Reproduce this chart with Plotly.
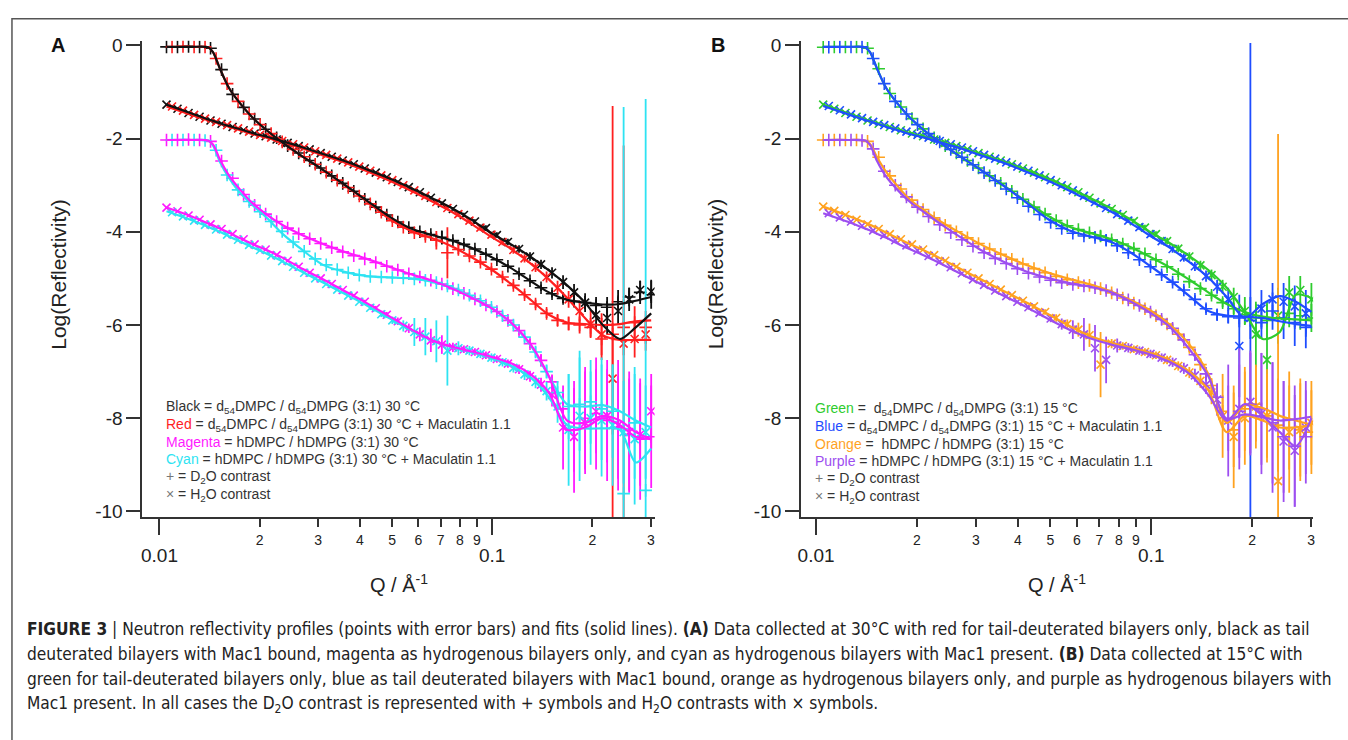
import plotly.graph_objects as go

W, H = 1348, 740

# ---------------------------------------------------------------- Q grids
Q1 = [0.0105, 0.01133, 0.01223, 0.0132, 0.01424, 0.01537, 0.01659, 0.0179, 0.01932, 0.02085,
      0.0225, 0.02428, 0.02621, 0.02828, 0.03052, 0.03294, 0.03555, 0.03837, 0.0414, 0.04468,
      0.04822, 0.05204, 0.05616, 0.06061, 0.06541, 0.07059, 0.07618, 0.08222, 0.08873, 0.09576,
      0.1033, 0.1115, 0.1204, 0.1299, 0.1402, 0.1513, 0.1633, 0.1762, 0.1902, 0.2052,
      0.2215, 0.239, 0.258, 0.2784, 0.3005]
Q2 = [0.01091, 0.01177, 0.01271, 0.01371, 0.0148, 0.01597, 0.01723, 0.0186, 0.02007, 0.02166,
      0.02338, 0.02522, 0.02723, 0.02938, 0.03171, 0.03422, 0.03693, 0.03986, 0.04301, 0.04642,
      0.0501, 0.05406, 0.05835, 0.06297, 0.06795, 0.07334, 0.07914, 0.08542, 0.09218, 0.09948,
      0.1074, 0.1158, 0.1251, 0.135, 0.1457, 0.1572, 0.1697, 0.1831, 0.1976, 0.2132,
      0.2301, 0.2483, 0.268, 0.2892]
QF = [0.0105, 0.0125, 0.0140, 0.0145, 0.0152, 0.0162, 0.0175, 0.019, 0.021, 0.0235,
      0.027, 0.031, 0.036, 0.042, 0.049, 0.057, 0.066, 0.076, 0.087, 0.10,
      0.114, 0.13, 0.148, 0.168, 0.19, 0.215, 0.242, 0.27, 0.3005]

# ---------------------------------------------------------------- panel A data (30 C)
A_BLACK_D2O = [-0.03, -0.03, -0.02, -0.03, -0.06, -0.52, -1.05, -1.33, -1.58, -1.80,
               -1.98, -2.15, -2.31, -2.47, -2.63, -2.80, -2.96, -3.13, -3.30, -3.47,
               -3.64, -3.79, -3.91, -4.00, -4.06, -4.12, -4.19, -4.27, -4.37, -4.48,
               -4.60, -4.74, -4.90, -5.05, -5.20, -5.33, -5.43, -5.49, -5.52, -5.58,
               -5.62, -5.50, -5.40, -5.30, -5.35]
A_BLACK_D2O_ERR = [0.02, 0.02, 0.02, 0.02, 0.02, 0.02, 0.02, 0.02, 0.02, 0.02,
                   0.02, 0.02, 0.02, 0.02, 0.02, 0.02, 0.02, 0.02, 0.02, 0.02,
                   0.03, 0.03, 0.03, 0.04, 0.06, 0.15, 0.06, 0.05, 0.05, 0.05,
                   0.05, 0.05, 0.06, 0.06, 0.07, 0.08, 0.10, 0.12, 0.14, 0.18,
                   0.22, 0.25, 0.20, 0.25, 0.30]
A_RED_D2O = [-0.03, -0.02, -0.03, -0.03, -0.28, -0.82, -1.20, -1.47, -1.70, -1.89,
             -2.07, -2.23, -2.39, -2.55, -2.72, -2.89, -3.05, -3.23, -3.40, -3.58,
             -3.76, -3.90, -4.02, -4.10, -4.18, -4.45, -4.38, -4.52, -4.65, -4.80,
             -4.97, -5.15, -5.35, -5.55, -5.75, -5.90, -5.97, -6.00, -6.05, -6.30,
             -6.20, -6.05, -5.95, -6.05]
A_RED_D2O_ERR = [0.02, 0.02, 0.02, 0.02, 0.02, 0.02, 0.02, 0.02, 0.02, 0.02,
                 0.02, 0.02, 0.02, 0.02, 0.02, 0.02, 0.02, 0.02, 0.02, 0.03,
                 0.03, 0.03, 0.04, 0.08, 0.20, 0.55, 0.10, 0.06, 0.06, 0.06,
                 0.07, 0.07, 0.08, 0.09, 0.10, 0.12, 0.15, 0.18, 0.20, 0.45,
                 4.90, 0.60, 0.35, 0.35]
A_BLACK_H2O = [-1.27, -1.36, -1.45, -1.53, -1.61, -1.68, -1.75, -1.82, -1.89, -1.95,
               -2.02, -2.09, -2.16, -2.23, -2.31, -2.39, -2.47, -2.55, -2.64, -2.73,
               -2.83, -2.93, -3.04, -3.15, -3.27, -3.39, -3.51, -3.64, -3.78, -3.92,
               -4.07, -4.22, -4.37, -4.53, -4.70, -4.88, -5.08, -5.30, -5.52, -5.78,
               -5.85, -5.70, -5.45, -5.25, -5.28]
A_BLACK_H2O_ERR = [0.02, 0.02, 0.02, 0.02, 0.02, 0.02, 0.02, 0.02, 0.02, 0.02,
                   0.02, 0.02, 0.02, 0.02, 0.02, 0.02, 0.02, 0.02, 0.02, 0.02,
                   0.03, 0.03, 0.03, 0.03, 0.04, 0.04, 0.04, 0.05, 0.05, 0.06,
                   0.06, 0.07, 0.08, 0.09, 0.10, 0.12, 0.15, 0.18, 0.20, 0.30,
                   0.35, 0.30, 0.25, 0.20, 0.25]
A_RED_H2O = [-1.31, -1.40, -1.49, -1.57, -1.64, -1.71, -1.78, -1.85, -1.92, -1.98,
             -2.05, -2.12, -2.19, -2.27, -2.35, -2.43, -2.51, -2.60, -2.69, -2.79,
             -2.89, -3.00, -3.11, -3.23, -3.36, -3.49, -3.62, -3.76, -3.91, -4.06,
             -4.22, -4.39, -4.57, -4.76, -4.97, -5.20, -5.45, -5.70, -5.98, -6.20,
             -7.15, -6.40, -6.30, -6.20]
A_RED_H2O_ERR = [0.02, 0.02, 0.02, 0.02, 0.02, 0.02, 0.02, 0.02, 0.02, 0.02,
                 0.02, 0.02, 0.02, 0.02, 0.02, 0.02, 0.02, 0.02, 0.02, 0.02,
                 0.03, 0.03, 0.03, 0.04, 0.04, 0.04, 0.05, 0.05, 0.06, 0.06,
                 0.07, 0.08, 0.09, 0.10, 0.12, 0.15, 0.18, 0.22, 0.30, 0.45,
                 1.20, 4.25, 0.40, 0.35]
A_MAGENTA_D2O = [-2.03, -2.03, -2.02, -2.03, -2.06, -2.48, -2.85, -3.20, -3.43, -3.62,
                 -3.78, -3.92, -4.04, -4.15, -4.25, -4.34, -4.43, -4.51, -4.58, -4.66,
                 -4.74, -4.82, -4.90, -4.97, -5.04, -5.12, -5.22, -5.32, -5.44, -5.57,
                 -5.71, -5.90, -6.12, -6.40, -6.76, -7.22, -7.80, -8.25, -8.00, -7.90,
                 -8.05, -8.20, -8.35, -8.45, -8.40]
A_MAGENTA_D2O_ERR = [0.02, 0.02, 0.02, 0.02, 0.02, 0.02, 0.02, 0.02, 0.02, 0.02,
                     0.02, 0.02, 0.02, 0.02, 0.02, 0.02, 0.02, 0.02, 0.02, 0.02,
                     0.02, 0.03, 0.03, 0.03, 0.03, 0.04, 0.04, 0.05, 0.05, 0.06,
                     0.07, 0.08, 0.09, 0.10, 0.12, 0.16, 0.40, 0.90, 1.10, 1.20,
                     1.30, 1.10, 1.20, 1.30, 1.10]
A_CYAN_D2O = [-2.03, -2.03, -2.03, -2.04, -2.25, -2.78, -3.10, -3.35, -3.57, -3.78,
              -3.99, -4.22, -4.42, -4.58, -4.71, -4.81, -4.88, -4.93, -4.96, -4.97,
              -4.98, -4.99, -5.01, -5.04, -5.09, -5.16, -5.25, -5.36, -5.48, -5.62,
              -5.80, -6.00, -6.26, -6.58, -7.00, -7.45, -7.75, -7.70, -7.65, -7.80,
              -7.85, -9.62, -8.10, -9.55]
A_CYAN_D2O_ERR = [0.02, 0.02, 0.02, 0.02, 0.02, 0.02, 0.02, 0.02, 0.02, 0.02,
                  0.02, 0.02, 0.02, 0.02, 0.02, 0.02, 0.02, 0.02, 0.02, 0.02,
                  0.03, 0.03, 0.03, 0.04, 0.05, 0.06, 0.05, 0.05, 0.06, 0.06,
                  0.07, 0.08, 0.10, 0.12, 0.15, 0.25, 0.70, 1.00, 0.90, 1.10,
                  1.00, 8.30, 1.20, 8.40]
A_MAGENTA_H2O = [-3.48, -3.56, -3.65, -3.74, -3.84, -3.94, -4.05, -4.16, -4.27, -4.38,
                 -4.50, -4.62, -4.75, -4.88, -5.00, -5.12, -5.25, -5.37, -5.50, -5.64,
                 -5.78, -5.92, -6.07, -6.20, -6.33, -6.42, -6.48, -6.52, -6.58, -6.65,
                 -6.73, -6.83, -6.95, -7.10, -7.28, -7.50, -8.20, -8.40, -8.10, -7.85,
                 -7.95, -8.15, -8.30, -8.35, -7.85]
A_MAGENTA_H2O_ERR = [0.02, 0.02, 0.02, 0.02, 0.02, 0.02, 0.02, 0.02, 0.02, 0.02,
                     0.02, 0.02, 0.02, 0.02, 0.02, 0.02, 0.02, 0.02, 0.04, 0.05,
                     0.06, 0.08, 0.10, 0.15, 0.25, 0.20, 0.10, 0.08, 0.08, 0.08,
                     0.08, 0.09, 0.10, 0.12, 0.15, 0.25, 0.90, 1.20, 1.10, 0.90,
                     1.00, 1.40, 1.30, 1.10, 0.80]
A_CYAN_H2O = [-3.58, -3.67, -3.76, -3.85, -3.95, -4.06, -4.17, -4.28, -4.39, -4.51,
              -4.63, -4.75, -4.88, -5.00, -5.12, -5.24, -5.37, -5.50, -5.63, -5.77,
              -5.90, -6.02, -6.15, -6.25, -6.35, -6.55, -6.50, -6.55, -6.62, -6.70,
              -6.80, -6.92, -7.06, -7.22, -7.42, -7.75, -8.25, -7.95, -8.00, -8.05,
              -8.15, -8.30, -8.45, -8.30]
A_CYAN_H2O_ERR = [0.02, 0.02, 0.02, 0.02, 0.02, 0.02, 0.02, 0.02, 0.02, 0.02,
                  0.02, 0.02, 0.02, 0.02, 0.02, 0.02, 0.02, 0.02, 0.05, 0.06,
                  0.08, 0.12, 0.30, 0.40, 0.45, 0.75, 0.15, 0.10, 0.09, 0.09,
                  0.09, 0.10, 0.12, 0.14, 0.20, 0.35, 1.20, 1.40, 1.00, 1.20,
                  1.30, 1.10, 1.40, 1.00]

# panel A fits
A_BLACK_D2O_FIT = [-0.03, -0.03, -0.04, -0.15, -0.50, -0.92, -1.25, -1.54, -1.82, -2.09,
                   -2.39, -2.67, -2.99, -3.33, -3.67, -3.93, -4.07, -4.19, -4.35, -4.55,
                   -4.78, -5.05, -5.30, -5.46, -5.52, -5.56, -5.55, -5.48, -5.40]
A_RED_D2O_FIT = [-0.03, -0.03, -0.04, -0.15, -0.50, -0.92, -1.25, -1.54, -1.82, -2.09,
                 -2.39, -2.67, -3.00, -3.35, -3.72, -3.98, -4.14, -4.32, -4.55, -4.82,
                 -5.12, -5.45, -5.78, -5.95, -5.98, -6.00, -5.98, -5.92, -5.90]
A_BLACK_H2O_FIT = [-1.27, -1.46, -1.59, -1.62, -1.67, -1.73, -1.80, -1.88, -1.96, -2.06,
                   -2.19, -2.33, -2.48, -2.66, -2.85, -3.06, -3.28, -3.50, -3.75, -4.04,
                   -4.27, -4.53, -4.83, -5.15, -5.52, -6.00, -6.30, -6.05, -5.75]
A_RED_H2O_FIT = [-1.31, -1.49, -1.60, -1.63, -1.68, -1.75, -1.82, -1.90, -1.98, -2.08,
                 -2.21, -2.36, -2.51, -2.70, -2.90, -3.12, -3.35, -3.58, -3.84, -4.12,
                 -4.37, -4.67, -5.02, -5.42, -5.85, -6.22, -6.32, -6.32, -6.32]
A_MAGENTA_D2O_FIT = [-2.03, -2.03, -2.04, -2.13, -2.45, -2.80, -3.10, -3.38, -3.63, -3.86,
                     -4.08, -4.26, -4.43, -4.58, -4.75, -4.91, -5.05, -5.22, -5.42, -5.65,
                     -5.95, -6.40, -7.10, -8.05, -8.10, -7.95, -8.05, -8.30, -8.45]
A_CYAN_D2O_FIT = [-2.03, -2.03, -2.04, -2.15, -2.50, -2.85, -3.17, -3.42, -3.70, -4.05,
                  -4.40, -4.71, -4.86, -4.95, -4.98, -5.00, -5.07, -5.20, -5.40, -5.64,
                  -5.96, -6.42, -7.10, -7.70, -7.75, -7.72, -7.85, -8.05, -8.20]
A_MAGENTA_H2O_FIT = [-3.48, -3.67, -3.82, -3.86, -3.93, -4.02, -4.14, -4.26, -4.39, -4.56,
                     -4.80, -5.02, -5.27, -5.53, -5.81, -6.09, -6.33, -6.47, -6.57, -6.69,
                     -6.82, -7.05, -7.45, -8.25, -8.20, -8.00, -8.15, -8.40, -8.45]
A_CYAN_H2O_FIT = [-3.56, -3.75, -3.89, -3.94, -4.00, -4.10, -4.21, -4.33, -4.47, -4.64,
                  -4.87, -5.09, -5.33, -5.58, -5.85, -6.11, -6.33, -6.48, -6.58, -6.71,
                  -6.88, -7.12, -7.55, -8.15, -8.22, -8.22, -8.25, -8.95, -8.65]

# ---------------------------------------------------------------- panel B data (15 C)
B_GREEN_D2O = [-0.04, -0.03, -0.03, -0.03, -0.06, -0.50, -1.03, -1.32, -1.57, -1.79,
               -1.98, -2.15, -2.31, -2.47, -2.63, -2.80, -2.96, -3.13, -3.30, -3.47,
               -3.62, -3.76, -3.87, -3.95, -4.02, -4.09, -4.17, -4.26, -4.36, -4.47,
               -4.60, -4.75, -4.91, -5.07, -5.22, -5.36, -5.52, -5.65, -5.78, -5.85,
               -5.90, -5.85, -5.75, -5.80, -5.85]
B_GREEN_D2O_ERR = [0.02, 0.02, 0.02, 0.02, 0.02, 0.02, 0.02, 0.02, 0.02, 0.02,
                   0.02, 0.02, 0.02, 0.02, 0.02, 0.02, 0.02, 0.02, 0.02, 0.02,
                   0.03, 0.03, 0.03, 0.04, 0.05, 0.12, 0.06, 0.05, 0.05, 0.05,
                   0.05, 0.05, 0.06, 0.06, 0.07, 0.08, 0.10, 0.12, 0.20, 0.30,
                   0.40, 0.35, 0.30, 0.30, 0.30]
B_BLUE_D2O = [-0.04, -0.03, -0.03, -0.03, -0.28, -0.82, -1.20, -1.47, -1.70, -1.89,
              -2.07, -2.23, -2.40, -2.56, -2.73, -2.90, -3.08, -3.27, -3.45, -3.63,
              -3.80, -3.93, -4.03, -4.09, -4.12, -4.18, -4.30, -4.45, -4.60, -4.75,
              -4.92, -5.08, -5.25, -5.45, -5.65, -5.78, -5.82, -5.85, -5.90, -5.95,
              -5.70, -5.85, -5.95, -6.05]
B_BLUE_D2O_ERR = [0.02, 0.02, 0.02, 0.02, 0.02, 0.02, 0.02, 0.02, 0.02, 0.02,
                  0.02, 0.02, 0.02, 0.02, 0.02, 0.02, 0.02, 0.02, 0.02, 0.02,
                  0.03, 0.03, 0.04, 0.05, 0.08, 0.12, 0.08, 0.06, 0.06, 0.06,
                  0.07, 0.07, 0.08, 0.09, 0.10, 0.12, 0.15, 0.20, 5.95, 0.35,
                  0.40, 0.45, 0.50, 0.45]
B_GREEN_H2O = [-1.27, -1.36, -1.45, -1.53, -1.61, -1.68, -1.75, -1.82, -1.89, -1.95,
               -2.02, -2.09, -2.16, -2.23, -2.31, -2.39, -2.47, -2.55, -2.64, -2.73,
               -2.83, -2.93, -3.04, -3.15, -3.27, -3.39, -3.51, -3.64, -3.77, -3.91,
               -4.05, -4.20, -4.36, -4.53, -4.72, -4.93, -5.18, -5.40, -5.70, -6.20,
               -6.75, -5.80, -5.30, -5.25, -5.45]
B_GREEN_H2O_ERR = [0.02, 0.02, 0.02, 0.02, 0.02, 0.02, 0.02, 0.02, 0.02, 0.02,
                   0.02, 0.02, 0.02, 0.02, 0.02, 0.02, 0.02, 0.02, 0.02, 0.02,
                   0.03, 0.03, 0.03, 0.03, 0.04, 0.04, 0.04, 0.05, 0.05, 0.06,
                   0.06, 0.07, 0.08, 0.09, 0.10, 0.12, 0.15, 0.20, 0.30, 0.70,
                   1.20, 0.60, 0.35, 0.30, 0.35]
B_BLUE_H2O = [-1.30, -1.39, -1.48, -1.56, -1.64, -1.71, -1.78, -1.85, -1.92, -1.98,
              -2.05, -2.12, -2.19, -2.27, -2.35, -2.43, -2.51, -2.60, -2.69, -2.79,
              -2.89, -3.00, -3.11, -3.23, -3.36, -3.49, -3.62, -3.76, -3.90, -4.05,
              -4.20, -4.37, -4.55, -4.74, -4.95, -5.18, -5.45, -6.45, -5.85, -5.65,
              -5.45, -5.50, -5.60, -5.75]
B_BLUE_H2O_ERR = [0.02, 0.02, 0.02, 0.02, 0.02, 0.02, 0.02, 0.02, 0.02, 0.02,
                  0.02, 0.02, 0.02, 0.02, 0.02, 0.02, 0.02, 0.02, 0.02, 0.02,
                  0.03, 0.03, 0.03, 0.04, 0.04, 0.04, 0.05, 0.05, 0.06, 0.06,
                  0.07, 0.08, 0.09, 0.10, 0.12, 0.15, 0.25, 1.10, 0.45, 0.40,
                  0.35, 0.40, 0.45, 0.50]
B_ORANGE_D2O = [-2.03, -2.03, -2.03, -2.03, -2.06, -2.40, -2.80, -3.08, -3.32, -3.52,
                -3.70, -3.86, -4.00, -4.13, -4.25, -4.37, -4.48, -4.59, -4.69, -4.79,
                -4.88, -4.96, -5.03, -5.09, -5.15, -5.22, -5.31, -5.42, -5.53, -5.65,
                -5.80, -5.98, -6.20, -6.48, -6.85, -7.30, -7.85, -8.25, -7.80, -7.70,
                -7.95, -8.15, -8.20, -8.25, -8.30]
B_ORANGE_D2O_ERR = [0.02, 0.02, 0.02, 0.02, 0.02, 0.02, 0.02, 0.02, 0.02, 0.02,
                    0.02, 0.02, 0.02, 0.02, 0.02, 0.02, 0.02, 0.02, 0.02, 0.02,
                    0.02, 0.03, 0.03, 0.03, 0.04, 0.05, 0.05, 0.05, 0.06, 0.06,
                    0.07, 0.08, 0.09, 0.10, 0.12, 0.16, 0.35, 0.80, 0.90, 0.80,
                    0.90, 1.00, 0.90, 1.00, 0.90]
B_PURPLE_D2O = [-2.03, -2.03, -2.03, -2.04, -2.22, -2.70, -3.00, -3.25, -3.47, -3.67,
                -3.85, -4.02, -4.17, -4.31, -4.45, -4.57, -4.68, -4.79, -4.89, -4.97,
                -5.04, -5.09, -5.13, -5.16, -5.20, -5.26, -5.35, -5.46, -5.58, -5.72,
                -5.88, -6.07, -6.32, -6.64, -7.05, -7.55, -8.00, -7.85, -7.70, -7.80,
                -8.10, -8.40, -8.60, -8.40]
B_PURPLE_D2O_ERR = [0.02, 0.02, 0.02, 0.02, 0.02, 0.02, 0.02, 0.02, 0.02, 0.02,
                    0.02, 0.02, 0.02, 0.02, 0.02, 0.02, 0.02, 0.02, 0.02, 0.02,
                    0.03, 0.03, 0.03, 0.04, 0.05, 0.06, 0.05, 0.05, 0.06, 0.06,
                    0.07, 0.08, 0.10, 0.12, 0.15, 0.25, 0.70, 1.00, 1.10, 1.20,
                    1.30, 1.20, 1.30, 1.00]
B_ORANGE_H2O = [-3.46, -3.55, -3.64, -3.74, -3.84, -3.94, -4.05, -4.16, -4.27, -4.38,
                -4.50, -4.62, -4.75, -4.88, -5.00, -5.12, -5.24, -5.36, -5.48, -5.60,
                -5.72, -5.85, -5.98, -6.10, -6.22, -6.85, -6.40, -6.45, -6.52, -6.58,
                -6.65, -6.75, -6.88, -7.02, -7.20, -7.45, -7.95, -8.40, -8.00, -7.75,
                -7.95, -9.35, -8.30, -8.25, -8.10]
B_ORANGE_H2O_ERR = [0.02, 0.02, 0.02, 0.02, 0.02, 0.02, 0.02, 0.02, 0.02, 0.02,
                    0.02, 0.02, 0.02, 0.02, 0.02, 0.02, 0.02, 0.02, 0.04, 0.05,
                    0.06, 0.08, 0.10, 0.15, 0.25, 0.70, 0.10, 0.08, 0.08, 0.08,
                    0.08, 0.09, 0.10, 0.12, 0.15, 0.25, 0.90, 1.10, 1.00, 0.90,
                    1.00, 7.45, 1.30, 1.10, 0.90]
B_PURPLE_H2O = [-3.60, -3.69, -3.78, -3.87, -3.97, -4.07, -4.18, -4.29, -4.40, -4.52,
                -4.64, -4.76, -4.89, -5.02, -5.14, -5.26, -5.38, -5.50, -5.62, -5.74,
                -5.86, -5.98, -6.10, -6.20, -6.50, -6.75, -6.44, -6.49, -6.55, -6.62,
                -6.70, -6.80, -6.93, -7.08, -7.28, -7.60, -8.05, -7.80, -7.65, -7.90,
                -8.20, -8.50, -8.70, -8.20]
B_PURPLE_H2O_ERR = [0.02, 0.02, 0.02, 0.02, 0.02, 0.02, 0.02, 0.02, 0.02, 0.02,
                    0.02, 0.02, 0.02, 0.02, 0.02, 0.02, 0.02, 0.02, 0.05, 0.06,
                    0.08, 0.12, 0.20, 0.35, 0.50, 0.50, 0.15, 0.10, 0.09, 0.09,
                    0.09, 0.10, 0.12, 0.14, 0.20, 0.35, 1.20, 1.30, 1.10, 1.30,
                    1.40, 1.30, 1.20, 1.00]

# panel B fits
B_GREEN_D2O_FIT = [-0.03, -0.03, -0.04, -0.15, -0.50, -0.92, -1.25, -1.54, -1.82, -2.09,
                   -2.39, -2.67, -2.99, -3.33, -3.65, -3.89, -4.03, -4.16, -4.33, -4.55,
                   -4.77, -5.03, -5.30, -5.55, -5.72, -5.82, -5.86, -5.88, -5.90]
B_BLUE_D2O_FIT = [-0.03, -0.03, -0.04, -0.15, -0.50, -0.92, -1.25, -1.54, -1.82, -2.09,
                  -2.39, -2.67, -3.00, -3.35, -3.72, -3.97, -4.10, -4.22, -4.45, -4.75,
                  -5.05, -5.38, -5.70, -5.80, -5.82, -5.85, -5.92, -5.98, -6.02]
B_GREEN_H2O_FIT = [-1.27, -1.46, -1.59, -1.62, -1.67, -1.73, -1.80, -1.88, -1.96, -2.06,
                   -2.19, -2.33, -2.48, -2.66, -2.85, -3.06, -3.28, -3.50, -3.74, -4.02,
                   -4.25, -4.52, -4.82, -5.20, -5.72, -6.30, -6.15, -5.35, -5.42]
B_BLUE_H2O_FIT = [-1.30, -1.48, -1.60, -1.63, -1.68, -1.75, -1.82, -1.90, -1.98, -2.08,
                  -2.21, -2.36, -2.51, -2.70, -2.90, -3.12, -3.35, -3.57, -3.82, -4.10,
                  -4.35, -4.65, -4.98, -5.40, -5.85, -5.55, -5.38, -5.50, -5.72]
B_ORANGE_D2O_FIT = [-2.03, -2.03, -2.04, -2.12, -2.40, -2.72, -3.02, -3.30, -3.54, -3.78,
                    -4.03, -4.27, -4.49, -4.70, -4.87, -5.01, -5.13, -5.28, -5.47, -5.70,
                    -6.00, -6.42, -7.05, -8.10, -7.72, -7.78, -7.95, -8.05, -8.14]
B_PURPLE_D2O_FIT = [-2.03, -2.03, -2.04, -2.14, -2.48, -2.82, -3.10, -3.35, -3.58, -3.83,
                    -4.12, -4.39, -4.63, -4.84, -4.99, -5.10, -5.18, -5.30, -5.50, -5.75,
                    -6.05, -6.52, -7.10, -8.02, -7.92, -7.98, -8.05, -8.02, -7.97]
B_ORANGE_H2O_FIT = [-3.46, -3.66, -3.80, -3.85, -3.92, -4.02, -4.14, -4.26, -4.40, -4.57,
                    -4.80, -5.02, -5.26, -5.50, -5.76, -6.02, -6.24, -6.38, -6.49, -6.61,
                    -6.76, -7.00, -7.40, -8.30, -7.95, -8.05, -8.20, -8.20, -8.15]
B_PURPLE_H2O_FIT = [-3.60, -3.79, -3.93, -3.97, -4.04, -4.13, -4.25, -4.37, -4.51, -4.68,
                    -4.90, -5.12, -5.36, -5.60, -5.86, -6.10, -6.29, -6.42, -6.52, -6.64,
                    -6.80, -7.05, -7.50, -8.05, -7.70, -7.95, -8.30, -8.60, -8.00]

# ---------------------------------------------------------------- axis ticks
Y_TICKS = [-10, -8, -6, -4, -2, 0]
Y_TICK_TEXT = ["-10", "-8", "-6", "-4", "-2", "0"]
X_DECADES = [0.01, 0.1]
X_DECADE_TEXT = ["0.01", "0.1"]
X_DIGITS = [0.02, 0.03, 0.04, 0.05, 0.06, 0.07, 0.08, 0.09, 0.2, 0.3]
X_DIGIT_TEXT = ["2", "3", "4", "5", "6", "7", "8", "9", "2", "3"]

# ---------------------------------------------------------------- colours
BLACK, RED, MAGENTA, CYAN = "#111111", "#ff1f1f", "#ff1aff", "#2ee3f2"
GREEN, BLUE, ORANGE, PURPLE = "#2ecc2e", "#1f4dff", "#ffa21f", "#9d4ef0"
AXIS = "#333333"
FONT = "Liberation Sans, Arial, Helvetica, sans-serif"
CONDENSED = "DejaVu Sans Condensed, Liberation Sans Narrow, sans-serif"


def data_trace(q, y, err, color, d2o, xa, ya):
    return go.Scatter(
        x=q, y=y, mode="markers", xaxis=xa, yaxis=ya,
        marker=dict(symbol="cross-thin" if d2o else "x-thin", size=9 if d2o else 8,
                    color=color, line=dict(width=1.6, color=color)),
        error_y=dict(type="data", array=err, visible=True, color=color,
                     thickness=1.8, width=0),
        hoverinfo="skip", showlegend=False)


def fit_trace(y, color, xa, ya):
    return go.Scatter(
        x=QF, y=y, mode="lines", xaxis=xa, yaxis=ya,
        line=dict(color=color, width=2.2, shape="spline", smoothing=0.8),
        hoverinfo="skip", showlegend=False)


fig = go.Figure()

# panel A
for q, y, e, c, d in [
        (Q1, A_BLACK_D2O, A_BLACK_D2O_ERR, BLACK, True),
        (Q1, A_BLACK_H2O, A_BLACK_H2O_ERR, BLACK, False),
        (Q1, A_MAGENTA_D2O, A_MAGENTA_D2O_ERR, MAGENTA, True),
        (Q1, A_MAGENTA_H2O, A_MAGENTA_H2O_ERR, MAGENTA, False),
        (Q2, A_RED_D2O, A_RED_D2O_ERR, RED, True),
        (Q2, A_RED_H2O, A_RED_H2O_ERR, RED, False),
        (Q2, A_CYAN_D2O, A_CYAN_D2O_ERR, CYAN, True),
        (Q2, A_CYAN_H2O, A_CYAN_H2O_ERR, CYAN, False)]:
    fig.add_trace(data_trace(q, y, e, c, d, "x", "y"))
for y, c in [(A_RED_D2O_FIT, RED), (A_RED_H2O_FIT, RED),
             (A_CYAN_D2O_FIT, CYAN), (A_CYAN_H2O_FIT, CYAN),
             (A_MAGENTA_D2O_FIT, MAGENTA), (A_MAGENTA_H2O_FIT, MAGENTA),
             (A_BLACK_D2O_FIT, BLACK), (A_BLACK_H2O_FIT, BLACK)]:
    fig.add_trace(fit_trace(y, c, "x", "y"))

# panel B
for q, y, e, c, d in [
        (Q1, B_GREEN_D2O, B_GREEN_D2O_ERR, GREEN, True),
        (Q1, B_GREEN_H2O, B_GREEN_H2O_ERR, GREEN, False),
        (Q1, B_ORANGE_D2O, B_ORANGE_D2O_ERR, ORANGE, True),
        (Q1, B_ORANGE_H2O, B_ORANGE_H2O_ERR, ORANGE, False),
        (Q2, B_BLUE_D2O, B_BLUE_D2O_ERR, BLUE, True),
        (Q2, B_BLUE_H2O, B_BLUE_H2O_ERR, BLUE, False),
        (Q2, B_PURPLE_D2O, B_PURPLE_D2O_ERR, PURPLE, True),
        (Q2, B_PURPLE_H2O, B_PURPLE_H2O_ERR, PURPLE, False)]:
    fig.add_trace(data_trace(q, y, e, c, d, "x2", "y2"))
for y, c in [(B_GREEN_D2O_FIT, GREEN), (B_GREEN_H2O_FIT, GREEN),
             (B_ORANGE_D2O_FIT, ORANGE), (B_ORANGE_H2O_FIT, ORANGE),
             (B_BLUE_D2O_FIT, BLUE), (B_BLUE_H2O_FIT, BLUE),
             (B_PURPLE_D2O_FIT, PURPLE), (B_PURPLE_H2O_FIT, PURPLE)]:
    fig.add_trace(fit_trace(y, c, "x2", "y2"))

# empty traces so the overlaid minor-digit axes get their own subplots
for xa, ya in [("x3", "y"), ("x4", "y2")]:
    fig.add_trace(go.Scatter(x=[], y=[], mode="markers", xaxis=xa, yaxis=ya,
                             hoverinfo="skip", showlegend=False))


# ---------------------------------------------------------------- layout helpers
def px(x):
    return x / W


def py(y):
    return 1 - y / H


PLOT_TOP, PLOT_BOTTOM = 35.3, 519.0
Y_DOMAIN = [py(PLOT_BOTTOM), py(PLOT_TOP)]
Y_RANGE = [-10.127, 0.1]
A_X = (140, 654, [-2.051, -0.512])
B_X = (801, 1315, [-2.045, -0.517])


def decade_axis(x0, x1, rng, anchor):
    return dict(domain=[px(x0), px(x1)], type="log", range=rng, anchor=anchor,
                tickmode="array", tickvals=X_DECADES, ticktext=X_DECADE_TEXT,
                ticks="outside", ticklen=16, tickwidth=1.6, tickcolor=AXIS,
                showline=True, linecolor=AXIS, linewidth=2, showgrid=False,
                zeroline=False, tickfont=dict(size=19, color="#222"),
                ticklabelstandoff=4)


def digit_axis(over, rng, anchor):
    return dict(overlaying=over, type="log", range=rng, anchor=anchor, side="bottom",
                tickmode="array", tickvals=X_DIGITS, ticktext=X_DIGIT_TEXT,
                ticks="outside", ticklen=9, tickwidth=1.6, tickcolor=AXIS,
                showline=False, showgrid=False, zeroline=False,
                tickfont=dict(size=14, color="#222"), ticklabelstandoff=1)


def y_axis(anchor):
    return dict(domain=Y_DOMAIN, range=Y_RANGE, anchor=anchor,
                tickmode="array", tickvals=Y_TICKS, ticktext=Y_TICK_TEXT,
                ticks="outside", ticklen=14, tickwidth=1.6, tickcolor=AXIS,
                showline=True, linecolor=AXIS, linewidth=2, showgrid=False,
                zeroline=False, tickfont=dict(size=19, color="#222"))


annotations = []


def text(x, y, s, size=14, color="#333", anchor="left", bold=False, angle=0, family=FONT):
    annotations.append(dict(
        xref="paper", yref="paper", x=px(x), y=py(y), text=f"<b>{s}</b>" if bold else s,
        showarrow=False, xanchor=anchor, yanchor="middle", textangle=angle,
        font=dict(size=size, color=color, family=family)))


# panel letters and axis titles
text(55, 40, "A", size=20, color="#111", anchor="center", bold=True)
text(718, 40, "B", size=20, color="#111", anchor="center", bold=True)
text(56, 272, "Log(Reflectivity)", size=21, color="#222", anchor="center", angle=-90)
text(716, 272, "Log(Reflectivity)", size=21, color="#222", anchor="center", angle=-90)
text(397, 586, "Q / Å<sup>-1</sup>", size=20, color="#222", anchor="center")
text(1058, 586, "Q / Å<sup>-1</sup>", size=20, color="#222", anchor="center")


def col(name, c):
    return f'<span style="color:{c}">{name}</span>'


D54 = "d<sub>54</sub>"
LEGEND_A = [
    f"Black = {D54}DMPC / {D54}DMPG (3:1) 30 °C",
    f"{col('Red', RED)} = {D54}DMPC / {D54}DMPG (3:1) 30 °C + Maculatin 1.1",
    f"{col('Magenta', MAGENTA)} = hDMPC / hDMPG (3:1) 30 °C",
    f"{col('Cyan', CYAN)} = hDMPC / hDMPG (3:1) 30 °C + Maculatin 1.1",
    f"{col('+', '#777')} = D<sub>2</sub>O contrast",
    f"{col('×', '#777')} = H<sub>2</sub>O contrast",
]
LEGEND_B = [
    f"{col('Green', GREEN)} =  {D54}DMPC / {D54}DMPG (3:1) 15 °C",
    f"{col('Blue', BLUE)} = {D54}DMPC / {D54}DMPG (3:1) 15 °C + Maculatin 1.1",
    f"{col('Orange', ORANGE)} =  hDMPC / hDMPG (3:1) 15 °C",
    f"{col('Purple', PURPLE)} = hDMPC / hDMPG (3:1) 15 °C + Maculatin 1.1",
    f"{col('+', '#777')} = D<sub>2</sub>O contrast",
    f"{col('×', '#777')} = H<sub>2</sub>O contrast",
]
LEGEND_ROWS = [407, 425, 443, 460, 478, 496]
for row, line in zip(LEGEND_ROWS, LEGEND_A):
    text(162, row, line)
for row, line in zip([r + 2 for r in LEGEND_ROWS], LEGEND_B):
    text(813, row, line)

CAPTION = [
    "<b>FIGURE 3</b> | Neutron reflectivity profiles (points with error bars) and fits (solid lines). "
    "<b>(A)</b> Data collected at 30°C with red for tail-deuterated bilayers only, black as tail",
    "deuterated bilayers with Mac1 bound, magenta as hydrogenous bilayers only, and cyan as hydrogenous "
    "bilayers with Mac1 present. <b>(B)</b> Data collected at 15°C with",
    "green for tail-deuterated bilayers only, blue as tail deuterated bilayers with Mac1 bound, orange as "
    "hydrogenous bilayers only, and purple as hydrogenous bilayers with",
    "Mac1 present. In all cases the D<sub>2</sub>O contrast is represented with + symbols and "
    "H<sub>2</sub>O contrasts with × symbols.",
]
for row, line in zip([632, 658, 683, 709], CAPTION):
    text(22, row, line, size=17.2, color="#222", family=CONDENSED)

fig.update_layout(
    width=W, height=H, autosize=False,
    margin=dict(l=0, r=0, t=0, b=0),
    paper_bgcolor="white", plot_bgcolor="white",
    font=dict(family=FONT, color="#222"),
    showlegend=False, hovermode=False,
    xaxis=decade_axis(A_X[0], A_X[1], A_X[2], "y"),
    xaxis2=decade_axis(B_X[0], B_X[1], B_X[2], "y2"),
    xaxis3=digit_axis("x", A_X[2], "y"),
    xaxis4=digit_axis("x2", B_X[2], "y2"),
    yaxis=y_axis("x"),
    yaxis2=y_axis("x2"),
    annotations=annotations,
    shapes=[dict(type="rect", xref="paper", yref="paper",
                 x0=px(9), y0=py(760), x1=px(1365), y1=py(13),
                 line=dict(color="#555", width=1.5), fillcolor="rgba(0,0,0,0)")],
)

fig.write_html("out.html")
